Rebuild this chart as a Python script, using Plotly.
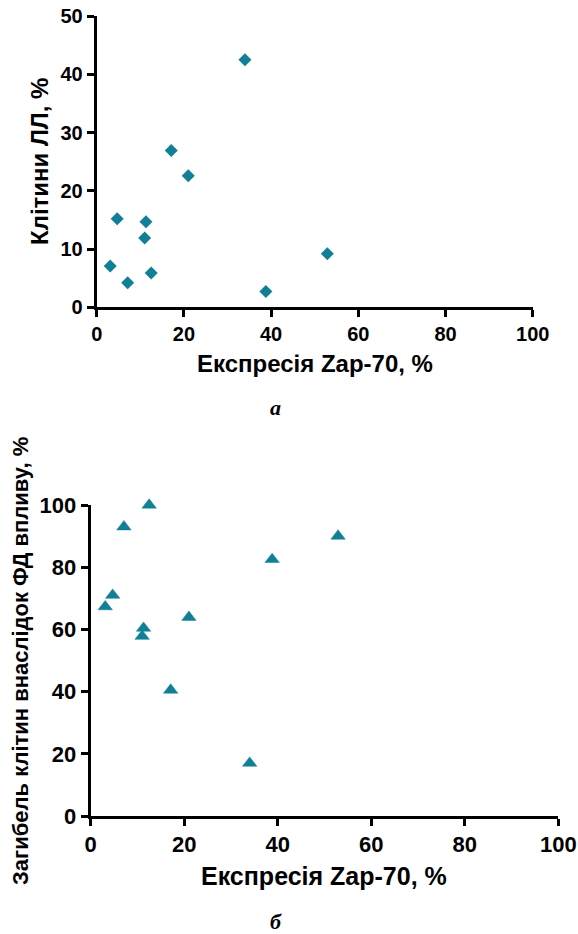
import plotly.graph_objects as go

# Zap-70 expression, % (same patients in both panels)
zap70 = [3.1, 4.7, 7.1, 11.0, 11.3, 12.5, 17.1, 21.0, 34.0, 38.8, 52.9]
# Panel a: leukaemia cells, %
ll_cells = [7.1, 15.2, 4.2, 11.9, 14.7, 5.9, 26.9, 22.6, 42.5, 2.7, 9.2]
# Panel b: cell death after photodynamic exposure, %
pd_death = [67.3, 71.0, 93.0, 57.8, 60.4, 100.0, 40.5, 63.9, 17.0, 82.5, 90.0]

x_ticks = [0, 20, 40, 60, 80, 100]
y_ticks_a = [0, 10, 20, 30, 40, 50]
y_ticks_b = [0, 20, 40, 60, 80, 100]

W, H = 578, 934
TEAL = "#117f96"
FONT = "Liberation Sans"


def px_x(p):
    return p / W


def px_y(p):
    return 1 - p / H


fig = go.Figure()
fig.add_trace(go.Scatter(
    x=zap70, y=ll_cells, mode="markers", xaxis="x", yaxis="y",
    marker=dict(symbol="diamond", size=10, color=TEAL, line=dict(width=0)),
    cliponaxis=False, showlegend=False,
))
fig.add_trace(go.Scatter(
    x=zap70, y=pd_death, mode="markers", xaxis="x2", yaxis="y2",
    marker=dict(symbol="triangle-up", size=12.5, color=TEAL,
                line=dict(width=0.5, color=TEAL)),
    cliponaxis=False, showlegend=False,
))

axis_common = dict(
    showgrid=False, zeroline=False, showline=True, linecolor="black",
    linewidth=3, ticks="outside", ticklen=7, tickwidth=3, tickcolor="black",
    fixedrange=True, automargin=False,
)

fig.update_layout(
    width=W, height=H,
    margin=dict(l=0, r=0, t=0, b=0, pad=0, autoexpand=False),
    paper_bgcolor="white", plot_bgcolor="white",
    xaxis=dict(domain=[px_x(96.7), px_x(532.7)], anchor="y", range=[0, 100],
               tickvals=x_ticks,
               tickfont=dict(family=FONT, size=20, color="black", weight="bold"),
               **axis_common),
    yaxis=dict(domain=[px_y(307.3), px_y(16)], anchor="x", range=[0, 50],
               tickvals=y_ticks_a,
               tickfont=dict(family=FONT, size=20, color="black", weight="bold"),
               **axis_common),
    xaxis2=dict(domain=[px_x(90.7), px_x(558.3)], anchor="y2", range=[0, 100],
                tickvals=x_ticks,
                tickfont=dict(family=FONT, size=22, color="black", weight="bold"),
                **axis_common),
    yaxis2=dict(domain=[px_y(816), px_y(505)], anchor="x2", range=[0, 100],
                tickvals=y_ticks_b,
                tickfont=dict(family=FONT, size=22, color="black", weight="bold"),
                **axis_common),
)


def bold(size):
    return dict(family=FONT, size=size, color="black", weight="bold")


label_font = dict(family="Liberation Serif", size=22, color="black",
                  weight="bold", style="italic")

annotations = [
    dict(text="Експресія Zap-70, %", x=px_x(315), y=px_y(363), font=bold(24)),
    dict(text="Клітини ЛЛ, %", x=px_x(40), y=px_y(162), font=bold(24),
         textangle=-90),
    dict(text="а", x=px_x(275), y=px_y(408), font=label_font),
    dict(text="Експресія Zap-70, %", x=px_x(324), y=px_y(876), font=bold(25)),
    dict(text="Загибель клітин внаслідок ФД впливу, %", x=px_x(20),
         y=px_y(661), font=bold(22), textangle=-90),
    dict(text="б", x=px_x(276), y=px_y(921), font=label_font),
]
for a in annotations:
    fig.add_annotation(xref="paper", yref="paper", showarrow=False,
                       xanchor="center", yanchor="middle", **a)

fig.write_html("out.html")
